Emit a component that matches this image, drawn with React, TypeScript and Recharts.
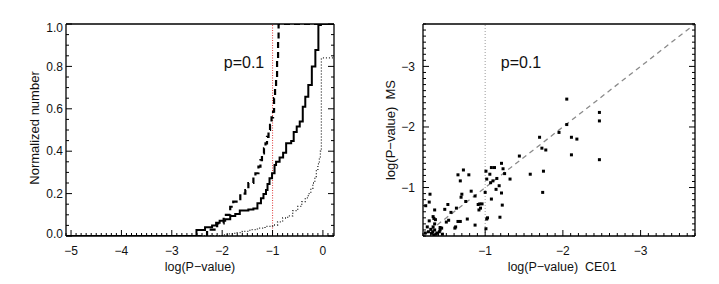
import React from "react";
import {
  LineChart,
  Line,
  XAxis,
  YAxis,
  ReferenceLine,
  ScatterChart,
  Scatter,
} from "recharts";

const FONT = '"Liberation Sans", Arial, sans-serif';

// left panel: cumulative distributions of log(P-value), step curves
const solidX = [-5.1, -2.51, -2.34, -2.2, -2.12, -2.05, -1.94, -1.84, -1.74, -1.65, -1.48, -1.38, -1.3, -1.23, -1.18, -1.13, -1.1, -1.06, -1.01, -0.96, -0.93, -0.86, -0.79, -0.73, -0.63, -0.58, -0.52, -0.46, -0.4, -0.35, -0.29, -0.22, -0.15, -0.09, -0.04, 0.22];
const solidY = [0, 0.028, 0.041, 0.05, 0.063, 0.072, 0.079, 0.094, 0.104, 0.12, 0.125, 0.13, 0.154, 0.178, 0.198, 0.217, 0.245, 0.272, 0.296, 0.335, 0.35, 0.37, 0.393, 0.437, 0.448, 0.49, 0.516, 0.54, 0.61, 0.657, 0.712, 0.8, 0.877, 0.995, 1.0, 1.0];

const dashedX = [-5.1, -2.3, -2.1, -1.97, -1.84, -1.78, -1.64, -1.54, -1.48, -1.38, -1.34, -1.28, -1.24, -1.21, -1.17, -1.14, -1.11, -1.08, -1.05, -1.02, -0.99, -0.97, -0.95, -0.93, -0.91, -0.89, -0.88, 0.22];
const dashedY = [0, 0.03, 0.06, 0.1, 0.138, 0.162, 0.2, 0.217, 0.25, 0.28, 0.296, 0.327, 0.358, 0.39, 0.414, 0.437, 0.468, 0.5, 0.524, 0.56, 0.586, 0.65, 0.7, 0.744, 0.838, 0.92, 1.0, 1.0];

const dottedX = [-5.1, -2.0, -1.9, -1.75, -1.6, -1.45, -1.3, -1.15, -1.0, -0.9, -0.8, -0.7, -0.6, -0.5, -0.42, -0.35, -0.29, -0.24, -0.2, -0.16, -0.13, -0.1, -0.07, -0.05, -0.03, 0.22];
const dottedY = [0, 0.005, 0.01, 0.016, 0.022, 0.03, 0.037, 0.045, 0.052, 0.067, 0.085, 0.095, 0.12, 0.14, 0.162, 0.18, 0.2, 0.225, 0.25, 0.28, 0.31, 0.34, 0.37, 0.4, 0.84, 0.84];

const leftXMajor = [-5, -4, -3, -2, -1, 0];
const leftYMajor = [0, 0.2, 0.4, 0.6, 0.8, 1.0];
const leftYLabels = ["0.0", "0.2", "0.4", "0.6", "0.8", "1.0"];

// right panel: log(P-value) CE01 vs MS
const ceX = [
  -2.05, -2.47, -2.47, -2.05, -1.95, -1.7, -2.11, -2.18, -1.73, -1.78, -1.44, -2.11, -2.47,
  -1.21, -1.23, -1.25, -1.58, -1.75, -1.32, -1.74, -1.08, -1.12, -1.01, -1.02, -1.06, -1.07,
  -1.1, -1.15, -1.18, -1.21, -1.22, -1.19, -1.08, -1.0, -1.14, -1.02, -1.03, -1.01,
  -0.72, -0.65, -0.68, -0.79, -0.7, -0.69, -0.82, -0.75, -0.87, -0.91, -0.93, -0.92, -0.94,
  -0.96, -0.87, -0.77, -0.63, -0.65, -0.68, -0.62, -0.52, -0.48, -0.56, -0.53, -0.5, -0.44,
  -0.42, -0.35, -0.34, -0.33, -0.35, -0.29, -0.28, -0.235, -0.28, -0.3, -0.23, -0.325, -0.34,
  -0.37, -0.38, -0.33, -0.255, -0.27, -0.31, -0.41, -0.45, -0.61, -0.42, -0.35, -0.36,
];
const msY = [
  -2.46, -2.24, -2.1, -2.04, -1.91, -1.83, -1.83, -1.8, -1.65, -1.62, -1.52, -1.54, -1.46,
  -1.4, -1.31, -1.23, -1.22, -1.27, -1.14, -0.92, -1.33, -1.33, -1.27, -1.14, -1.22, -1.08,
  -1.11, -1.15, -1.03, -0.91, -0.71, -0.51, -0.81, -0.92, -0.97, -0.48, -0.5, -0.32,
  -1.29, -1.21, -1.11, -1.21, -0.89, -0.84, -0.94, -0.77, -0.86, -0.72, -0.73, -0.63, -0.66,
  -0.73, -0.38, -0.48, -0.66, -0.44, -0.44, -0.35, -0.72, -0.64, -0.59, -0.46, -0.43, -0.33,
  -0.3, -0.63, -0.49, -0.52, -0.4, -0.89, -0.76, -0.7, -0.45, -0.31, -0.25, -0.27, -0.22,
  -0.23, -0.25, -0.35, -0.35, -0.27, -0.245, -0.27, -0.23, -0.33, -0.34, -0.3, -0.47,
];
const rightMajor = [-1, -2, -3];

const toPts = (xs: number[], ys: number[]) => xs.map((x, i) => ({ x, y: ys[i] }));
const solid = toPts(solidX, solidY);
const dashed = toPts(dashedX, dashedY);
const dotted = toPts(dottedX, dottedY);
const scatter = toPts(ceX, msY);

const range = (a: number, b: number, step: number) => {
  const out: number[] = [];
  for (let k = Math.round(a / step); k <= Math.round(b / step); k++) out.push(Math.round(k * step * 1000) / 1000);
  return out;
};
const leftXTicks = range(-5.1, 0.2, 0.1);
const leftYTicks = range(0, 1, 0.05);
const rightTicks = range(-3.7, -0.2, 0.1);

const isMajor = (majors: number[], v: number) => majors.some((m) => Math.abs(m - v) < 1e-6);
const fmtMinus = (v: number) => (v < 0 ? "\u2212" + Math.abs(v) : String(v));

type Side = "bottom" | "top" | "left" | "right";

function makeTick(side: Side, majors: number[], label?: (v: number) => string, gap = 3, edgeShift = 0) {
  return (props: any) => {
    const { x, y, payload } = props;
    const v = payload.value as number;
    const major = isMajor(majors, v);
    const len = major ? 6 : 3;
    let line;
    if (side === "bottom") line = <line x1={x} y1={y} x2={x} y2={y - len} />;
    else if (side === "top") line = <line x1={x} y1={y} x2={x} y2={y + len} />;
    else if (side === "left") line = <line x1={x} y1={y} x2={x + len} y2={y} />;
    else line = <line x1={x} y1={y} x2={x - len} y2={y} />;
    let text = null;
    if (label && major) {
      if (side === "bottom")
        text = (
          <text x={x} y={y + 15} textAnchor="middle" dy="0.35em" fill="#111" stroke="none" fontSize={12} fontFamily={FONT}>
            {label(v)}
          </text>
        );
      if (side === "left") {
        // labels at the ends of the axis sit a little inside, as in the original
        let shift = 0;
        if (edgeShift && v === majors[majors.length - 1]) shift = edgeShift;
        if (edgeShift && v === majors[0]) shift = -edgeShift / 2;
        text = (
          <text x={x - gap} y={y + shift} textAnchor="end" dy="0.35em" fill="#111" stroke="none" fontSize={12} fontFamily={FONT}>
            {label(v)}
          </text>
        );
      }
    }
    return (
      <g stroke="#000" strokeWidth={1}>
        {line}
        {text}
      </g>
    );
  };
}

const axisLine = { stroke: "#000", strokeWidth: 1.3 };

function Txt({ x, y, size = 12.5, rotate = false, children }: any) {
  return (
    <div
      style={{
        position: "absolute",
        left: x,
        top: y,
        transform: `translate(-50%, -50%)${rotate ? " rotate(-90deg)" : ""}`,
        fontFamily: FONT,
        fontSize: size,
        color: "#111",
        whiteSpace: "pre",
        lineHeight: 1,
      }}
    >
      {children}
    </div>
  );
}

export default function App() {
  return (
    <div style={{ position: "absolute", left: 0, top: 0, width: 719, height: 284, background: "#fff" }}>
      <div style={{ position: "absolute", left: 0, top: 0 }}>
        <LineChart width={360} height={284} margin={{ top: 23, left: 65, right: 25, bottom: 47 }}>
          <XAxis
            dataKey="x"
            type="number"
            domain={[-5.1, 0.22]}
            ticks={leftXTicks}
            interval={0}
            height={1}
            tickSize={0}
            tickMargin={0}
            axisLine={axisLine}
            tickLine={false}
            tick={makeTick("bottom", leftXMajor, fmtMinus)}
            allowDataOverflow
          />
          <XAxis
            xAxisId="top"
            orientation="top"
            type="number"
            domain={[-5.1, 0.22]}
            ticks={leftXTicks}
            interval={0}
            height={1}
            tickSize={0}
            tickMargin={0}
            axisLine={axisLine}
            tickLine={false}
            tick={makeTick("top", leftXMajor)}
            allowDataOverflow
          />
          <YAxis
            type="number"
            domain={[0, 1]}
            ticks={leftYTicks}
            interval={0}
            width={1}
            tickSize={0}
            tickMargin={0}
            axisLine={axisLine}
            tickLine={false}
            tick={makeTick("left", leftYMajor, (v) => leftYLabels[Math.round(v * 5)], 3, 4)}
            allowDataOverflow
          />
          <YAxis
            yAxisId="right"
            orientation="right"
            type="number"
            domain={[0, 1]}
            ticks={leftYTicks}
            interval={0}
            width={1}
            tickSize={0}
            tickMargin={0}
            axisLine={axisLine}
            tickLine={false}
            tick={makeTick("right", leftYMajor)}
            allowDataOverflow
          />
          <ReferenceLine x={-1} stroke="#e24a4a" strokeDasharray="1 1.5" strokeWidth={1.1} />
          <Line data={dotted} dataKey="y" type="stepAfter" stroke="#222" strokeWidth={1.3} strokeDasharray="1 2" dot={false} isAnimationActive={false} />
          <Line data={dashed} dataKey="y" type="stepAfter" stroke="#000" strokeWidth={2.2} strokeDasharray="6 4" dot={false} isAnimationActive={false} />
          <Line data={solid} dataKey="y" type="stepAfter" stroke="#000" strokeWidth={2} dot={false} isAnimationActive={false} />
        </LineChart>
      </div>
      <div style={{ position: "absolute", left: 360, top: 0 }}>
        <ScatterChart width={359} height={284} margin={{ top: 23, left: 62, right: 23, bottom: 47 }}>
          <XAxis
            dataKey="x"
            type="number"
            domain={[-3.7, -0.2]}
            reversed
            ticks={rightTicks}
            interval={0}
            height={1}
            tickSize={0}
            tickMargin={0}
            axisLine={axisLine}
            tickLine={false}
            tick={makeTick("bottom", rightMajor, fmtMinus)}
            allowDataOverflow
          />
          <XAxis
            xAxisId="top"
            orientation="top"
            type="number"
            domain={[-3.7, -0.2]}
            reversed
            ticks={rightTicks}
            interval={0}
            height={1}
            tickSize={0}
            tickMargin={0}
            axisLine={axisLine}
            tickLine={false}
            tick={makeTick("top", rightMajor)}
            allowDataOverflow
          />
          <YAxis
            dataKey="y"
            type="number"
            domain={[-3.7, -0.2]}
            reversed
            ticks={rightTicks}
            interval={0}
            width={1}
            tickSize={0}
            tickMargin={0}
            axisLine={axisLine}
            tickLine={false}
            tick={makeTick("left", rightMajor, fmtMinus, 8)}
            allowDataOverflow
          />
          <YAxis
            yAxisId="right"
            orientation="right"
            type="number"
            domain={[-3.7, -0.2]}
            reversed
            ticks={rightTicks}
            interval={0}
            width={1}
            tickSize={0}
            tickMargin={0}
            axisLine={axisLine}
            tickLine={false}
            tick={makeTick("right", rightMajor)}
            allowDataOverflow
          />
          <ReferenceLine x={-1} stroke="#999" strokeDasharray="1 2" strokeWidth={1} />
          <ReferenceLine
            segment={[{ x: -0.2, y: -0.2 }, { x: -3.7, y: -3.7 }]}
            stroke="#8a8a8a"
            strokeDasharray="5 4"
            strokeWidth={1.3}
            ifOverflow="visible"
          />
          <Scatter
            data={scatter}
            isAnimationActive={false}
            shape={(p: any) => <rect x={p.cx - 1.5} y={p.cy - 1.5} width={3} height={3} fill="#000" />}
          />
        </ScatterChart>
      </div>
      <Txt x={200} y={267}>log(P{"\u2212"}value)</Txt>
      <Txt x={33.5} y={128} rotate size={13}>Normalized number</Txt>
      <Txt x={244} y={63} size={16}>p=0.1</Txt>
      <Txt x={562} y={267}>{"log(P\u2212value)  CE01"}</Txt>
      <Txt x={390} y={130} rotate size={13}>{"log(P\u2212value)  MS"}</Txt>
      <Txt x={521} y={63} size={16}>p=0.1</Txt>
    </div>
  );
}
